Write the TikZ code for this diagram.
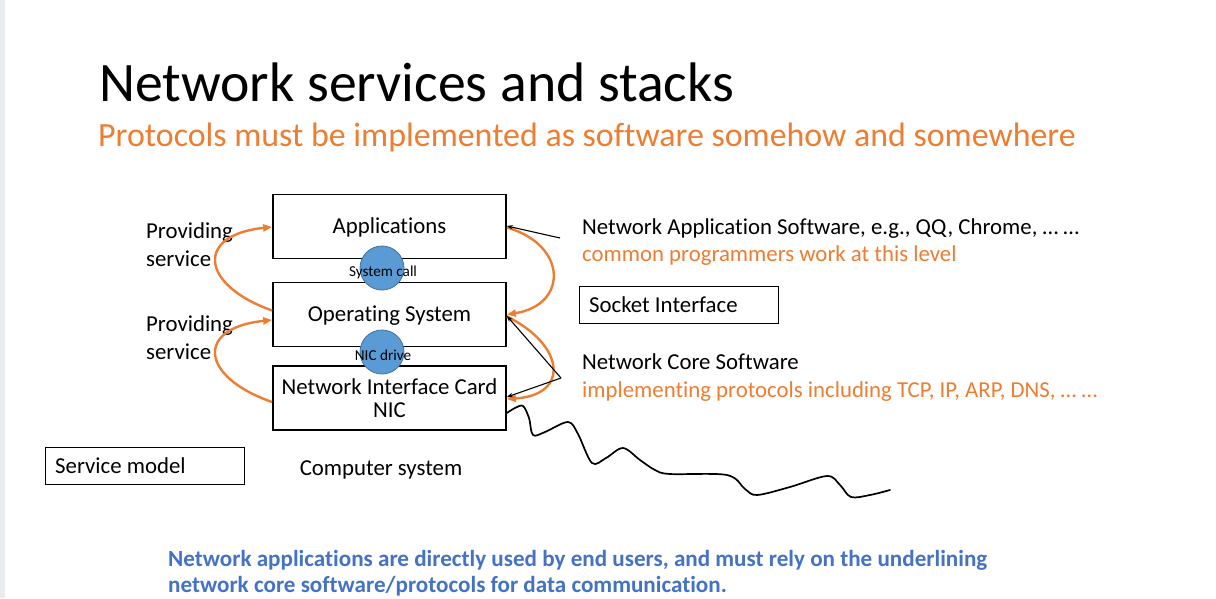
\documentclass[tikz,border=0pt]{standalone}
\usepackage{fontspec}
\setmainfont{Carlito}[Ligatures=NoCommon]
\usetikzlibrary{arrows.meta}
\definecolor{accent}{HTML}{ED7D31}
\definecolor{notecol}{HTML}{4472C4}
\definecolor{bubble}{HTML}{5B9BD5}
\definecolor{bubbleline}{HTML}{41719C}
\definecolor{sidebar}{HTML}{E9ECEF}
\newcommand{\fs}[2]{\fontsize{#1}{#2}\selectfont}
\begin{document}
\begin{tikzpicture}[x=1pt,y=-1pt,
  layer/.style={draw=black,line width=1.8pt,minimum width=233pt,minimum height=64pt,
    inner sep=0pt,align=center,font=\fs{22.8}{23}},
  oneline/.style={layer,text height=17pt,text depth=3pt},
  framed/.style={draw=black,line width=1pt,minimum width=199pt,minimum height=37pt,inner sep=0pt},
  plain/.style={inner sep=0pt,align=left,font=\fs{22.8}{28}},
  callout/.style={circle,draw=bubbleline,line width=0.8pt,fill=bubble,minimum size=44pt,inner sep=0pt},
  small/.style={inner sep=0pt,font=\fs{15.2}{16}},
  service/.style={draw=accent,line width=2.4pt,-{Triangle[length=9pt,width=7pt]}},
  pointer/.style={draw=black,line width=1.1pt,-{Stealth[length=6pt,width=4.5pt]}},
  wire/.style={draw=black,line width=1.7pt,line cap=round,line join=round}]
\useasboundingbox (0,0) rectangle (1216,598);
\fill[white] (0,0) rectangle (1216,598);
\fill[sidebar] (0,0) rectangle (5,598);

% headings
\node[anchor=base west,inner sep=0pt,font=\fs{55.7}{56}] (title) at (99,101) {Network services and stacks};
\node[anchor=base west,inner sep=0pt,font=\fs{33.9}{34},text=accent] (subtitle) at (98,146)
  {Protocols must be implemented as software somehow and somewhere};

% the three layers of a computer
\node[oneline] (app) at (389.5,226.5) {Applications};
\node[oneline] (os)  at (389.5,314.5) {Operating System};
\node[layer] (nic) at (389.5,398) {Network Interface Card\\NIC};

% interfaces between layers
\node[callout] (sc) at (382,268) {};
\node[small] (sclabel) at (383,272) {System call};
\node[callout] (nd) at (382,352) {};
\node[small] (ndlabel) at (383,355) {NIC drive};

% service arrows, left side
\node[plain,anchor=west] (ps1) at (146,245) {Providing\\service};
\node[plain,anchor=west] (ps2) at (146,338) {Providing\\service};
\draw[service] ([yshift=4pt]os.west) .. controls (200,285) and (195,235) .. ([yshift=-0.5pt]app.west);
\draw[service] ([yshift=-4pt]nic.west) .. controls (200,377) and (195,328) .. ([yshift=-5.5pt]os.west);

% service arrows, right side
\draw[service] ([yshift=-1pt]app.east) .. controls (568,245) and (568,305) .. (os.east);
\draw[service] ([yshift=-2pt]os.east) .. controls (565,345) and (570,395) .. ([yshift=-1pt]nic.east);

% descriptions
\node[plain,anchor=west,font=\fs{22.8}{27}] (appsw) at (582,242)
  {Network Application Software, e.g., QQ, Chrome, … …\\\textcolor{accent}{common programmers work at this level}};
\node[plain,anchor=west] (coresw) at (582,377.5)
  {Network Core Software\\\textcolor{accent}{implementing protocols including TCP, IP, ARP, DNS, … …}};
\coordinate (appfoot) at (560,238);
\coordinate (corefoot) at (561,378);
\draw[pointer] (appfoot) -- ([yshift=0.5pt]app.east);
\draw[pointer] (corefoot) -- ([yshift=-1.5pt]os.east);
\draw[pointer] (corefoot) -- ([yshift=1pt]nic.east);

\node[framed,anchor=north west] (socket) at (579,285.5) {};
\node[plain,anchor=west] (socketlabel) at ([xshift=10pt]socket.west) {Socket Interface};
\node[framed,anchor=north west] (model) at (45,447) {};
\node[plain,anchor=west] (modellabel) at ([xshift=10pt]model.west) {Service model};
\node[plain,anchor=center] (computer) at (381,469.5) {Computer system};

% network cable leaving the NIC
\coordinate (cable) at ([yshift=-15pt]nic.east);
\draw[wire] plot[smooth,tension=0.55] coordinates {(cable) (515,408) (523,406) (529,418) (533,435)
  (545,432) (568,422) (578,434) (592,463) (606,458) (623,448) (640,460) (655,470) (670,474)
  (727,475) (745,489) (757,495) (790,487) (827,476) (840,485) (851,497) (870,495) (890,490)};

% closing remark
\node[anchor=base west,inner sep=0pt,align=left,font=\bfseries\fs{23.1}{26},text=notecol] (remark) at (168,592)
  {Network applications are directly used by end users, and must rely on the underlining\\network core software/protocols for data communication.};
\end{tikzpicture}
\end{document}
